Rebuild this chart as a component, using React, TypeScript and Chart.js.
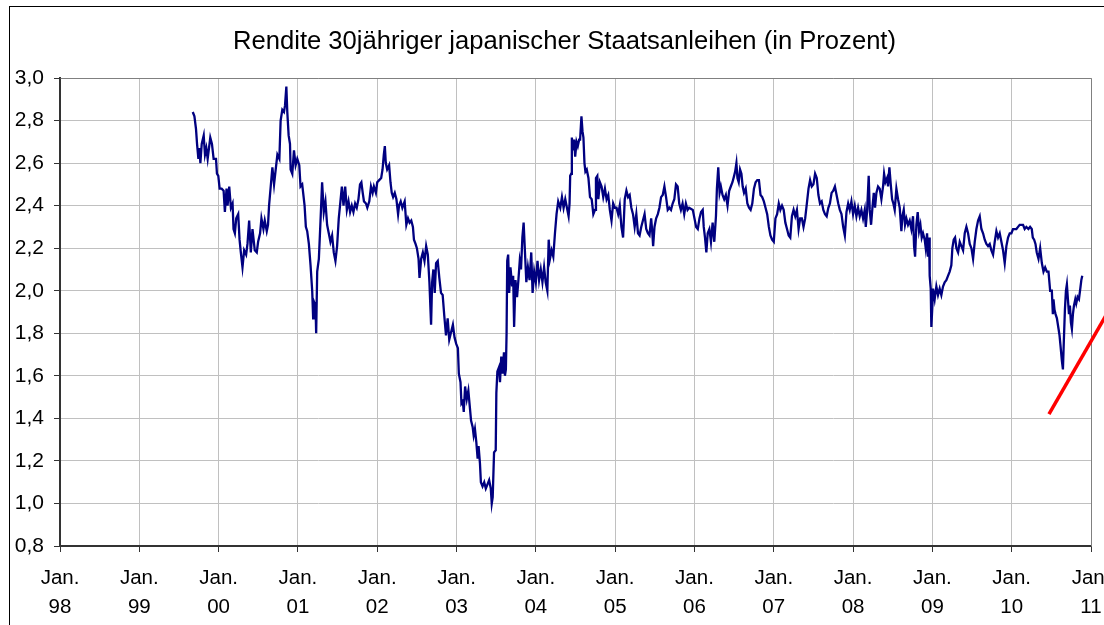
import React, { useEffect, useRef } from "react";
import { Chart, registerables } from "chart.js";

Chart.register(...registerables);

const titleText = "Rendite 30jähriger japanischer Staatsanleihen (in Prozent)";
const xTickTop = "Jan.";
const xTickLabels = ["98", "99", "00", "01", "02", "03", "04", "05", "06", "07", "08", "09", "10", "11"];
const xMin = 1998;
const xMax = 2011;
const yMin = 0.8;
const yMax = 3.0;
const yStep = 0.2;

// decimal years
const dates = [
  1999.674, 1999.695, 1999.715, 1999.728, 1999.745, 1999.757, 1999.770, 1999.787, 1999.812, 1999.828,
  1999.845, 1999.862, 1999.895, 1999.916, 1999.937, 1999.967, 1999.979, 1999.996, 2000.013, 2000.038,
  2000.063, 2000.079, 2000.100, 2000.113, 2000.134, 2000.155, 2000.176, 2000.188, 2000.205, 2000.222,
  2000.247, 2000.264, 2000.280, 2000.301, 2000.322, 2000.347, 2000.364, 2000.385, 2000.406, 2000.427,
  2000.456, 2000.481, 2000.498, 2000.523, 2000.540, 2000.565, 2000.582, 2000.607, 2000.623, 2000.636,
  2000.657, 2000.678, 2000.699, 2000.720, 2000.741, 2000.766, 2000.782, 2000.803, 2000.824, 2000.837,
  2000.854, 2000.866, 2000.883, 2000.900, 2000.908, 2000.929, 2000.950, 2000.971, 2000.992, 2001.017,
  2001.033, 2001.054, 2001.084, 2001.100, 2001.117, 2001.138, 2001.159, 2001.180, 2001.192, 2001.201,
  2001.222, 2001.230, 2001.243, 2001.264, 2001.285, 2001.305, 2001.326, 2001.347, 2001.368, 2001.389,
  2001.410, 2001.431, 2001.452, 2001.473, 2001.494, 2001.515, 2001.536,
  2001.554, 2001.575, 2001.596, 2001.617, 2001.638, 2001.658, 2001.679, 2001.700, 2001.721, 2001.742,
  2001.763, 2001.783, 2001.800, 2001.817, 2001.833, 2001.858, 2001.875, 2001.900, 2001.921, 2001.942,
  2001.958, 2001.983, 2002.000, 2002.025, 2002.050, 2002.067, 2002.083, 2002.096, 2002.108, 2002.125,
  2002.150, 2002.167, 2002.183, 2002.200, 2002.221, 2002.242, 2002.263, 2002.275, 2002.296, 2002.317,
  2002.346, 2002.367, 2002.388, 2002.408, 2002.429, 2002.450, 2002.463, 2002.483, 2002.500, 2002.521,
  2002.533, 2002.554, 2002.575, 2002.596, 2002.617, 2002.638, 2002.658, 2002.679, 2002.692, 2002.708,
  2002.725, 2002.742, 2002.763, 2002.783, 2002.804, 2002.825, 2002.846, 2002.867, 2002.888, 2002.908,
  2002.954, 2002.975, 2002.996, 2003.017, 2003.029, 2003.050, 2003.062, 2003.079, 2003.091, 2003.108,
  2003.129, 2003.149, 2003.166, 2003.183, 2003.203, 2003.216, 2003.232, 2003.249, 2003.266, 2003.278,
  2003.295, 2003.307, 2003.328, 2003.349, 2003.369, 2003.390, 2003.411, 2003.432, 2003.444, 2003.456,
  2003.473, 2003.494, 2003.502, 2003.515, 2003.535, 2003.548, 2003.564, 2003.581, 2003.598, 2003.610,
  2003.622, 2003.631, 2003.639, 2003.651, 2003.664, 2003.680, 2003.701, 2003.714, 2003.726, 2003.743,
  2003.763, 2003.780, 2003.797, 2003.813, 2003.830, 2003.846, 2003.863, 2003.880, 2003.900, 2003.921,
  2003.942, 2003.959, 2003.979, 2004.000, 2004.021, 2004.041, 2004.062, 2004.083, 2004.104, 2004.124,
  2004.145, 2004.162, 2004.178, 2004.199, 2004.220, 2004.241, 2004.261, 2004.282,
  2004.308, 2004.329, 2004.350, 2004.371, 2004.392, 2004.413, 2004.425, 2004.433, 2004.446, 2004.454,
  2004.467, 2004.483, 2004.496, 2004.513, 2004.529, 2004.546, 2004.558, 2004.575, 2004.588, 2004.600,
  2004.613, 2004.625, 2004.642, 2004.663, 2004.683, 2004.704, 2004.725, 2004.746, 2004.758, 2004.775,
  2004.788, 2004.808, 2004.829, 2004.850, 2004.871, 2004.892, 2004.913, 2004.933, 2004.954, 2004.975,
  2004.996, 2005.017, 2005.038, 2005.058, 2005.079, 2005.100, 2005.121, 2005.142, 2005.163, 2005.183,
  2005.204, 2005.225, 2005.246, 2005.267, 2005.288, 2005.308, 2005.329, 2005.350, 2005.371, 2005.392,
  2005.413, 2005.433, 2005.454, 2005.467, 2005.479, 2005.496, 2005.517, 2005.538, 2005.558, 2005.579,
  2005.600, 2005.621, 2005.642, 2005.663, 2005.683, 2005.704, 2005.725, 2005.746, 2005.767, 2005.788,
  2005.808, 2005.829, 2005.850, 2005.871, 2005.892, 2005.913, 2005.933,
  2005.979, 2006.000, 2006.021, 2006.042, 2006.063, 2006.083, 2006.104, 2006.117, 2006.133, 2006.150,
  2006.167, 2006.188, 2006.208, 2006.229, 2006.250, 2006.271, 2006.283, 2006.300, 2006.317, 2006.333,
  2006.354, 2006.375, 2006.396, 2006.417, 2006.438, 2006.458, 2006.479, 2006.500, 2006.513, 2006.529,
  2006.542, 2006.558, 2006.575, 2006.592, 2006.608, 2006.625, 2006.646, 2006.667, 2006.688, 2006.708,
  2006.729, 2006.750, 2006.771, 2006.792, 2006.813, 2006.833, 2006.854, 2006.875, 2006.896, 2006.917,
  2006.938, 2006.958, 2006.979, 2007.000, 2007.021, 2007.042, 2007.063, 2007.083, 2007.104, 2007.125,
  2007.146, 2007.167, 2007.188, 2007.208, 2007.229, 2007.250, 2007.271, 2007.292, 2007.313, 2007.333,
  2007.354, 2007.375, 2007.396, 2007.417, 2007.438, 2007.458, 2007.479, 2007.500, 2007.521, 2007.542,
  2007.563, 2007.583, 2007.604, 2007.625, 2007.646, 2007.667, 2007.688, 2007.708, 2007.729, 2007.750,
  2007.771, 2007.792, 2007.813, 2007.833, 2007.854, 2007.875, 2007.896, 2007.917, 2007.938, 2007.958,
  2007.979, 2008.000, 2008.021, 2008.042, 2008.063,
  2008.084, 2008.105, 2008.126, 2008.147, 2008.160, 2008.176, 2008.197, 2008.210, 2008.227, 2008.244,
  2008.261, 2008.277, 2008.294, 2008.315, 2008.336, 2008.357, 2008.378, 2008.391, 2008.408, 2008.429,
  2008.441, 2008.458, 2008.475, 2008.492, 2008.508, 2008.525, 2008.546, 2008.567, 2008.588, 2008.609,
  2008.622, 2008.639, 2008.655, 2008.672, 2008.693, 2008.714, 2008.735, 2008.756, 2008.769, 2008.782,
  2008.798, 2008.815, 2008.832, 2008.849, 2008.866, 2008.882, 2008.903, 2008.916, 2008.933, 2008.945,
  2008.958, 2008.966, 2008.979, 2008.987, 2009.000, 2009.008, 2009.029, 2009.050, 2009.071, 2009.092,
  2009.113, 2009.134, 2009.155, 2009.176, 2009.197, 2009.218, 2009.239, 2009.252, 2009.269, 2009.286,
  2009.303, 2009.324, 2009.345, 2009.366, 2009.387, 2009.408, 2009.429, 2009.450, 2009.471, 2009.492,
  2009.513, 2009.534, 2009.555, 2009.576, 2009.597, 2009.618, 2009.639, 2009.660, 2009.681, 2009.702,
  2009.723, 2009.744, 2009.765, 2009.786, 2009.807, 2009.828, 2009.849, 2009.870, 2009.891, 2009.912,
  2009.933, 2009.954, 2009.975, 2009.996, 2010.017, 2010.038, 2010.059, 2010.080, 2010.101, 2010.122,
  2010.143, 2010.164, 2010.185,
  2010.211, 2010.232, 2010.253, 2010.266, 2010.283, 2010.300, 2010.316, 2010.338, 2010.359, 2010.380,
  2010.401, 2010.422, 2010.443, 2010.464, 2010.485, 2010.506, 2010.519, 2010.527, 2010.540, 2010.553,
  2010.570, 2010.591, 2010.603, 2010.616, 2010.633, 2010.646, 2010.658, 2010.671, 2010.684, 2010.696,
  2010.709, 2010.722, 2010.734, 2010.747, 2010.759, 2010.772, 2010.785, 2010.802, 2010.814, 2010.831,
  2010.848, 2010.865, 2010.878, 2010.890,
];

// yield in percent
const yields = [
  2.84, 2.82, 2.76, 2.69, 2.62, 2.67, 2.60, 2.69, 2.73, 2.64,
  2.67, 2.62, 2.72, 2.69, 2.62, 2.62, 2.55, 2.54, 2.48, 2.48,
  2.47, 2.37, 2.48, 2.40, 2.49, 2.39, 2.41, 2.29, 2.27, 2.34,
  2.36, 2.24, 2.18, 2.11, 2.19, 2.17, 2.22, 2.33, 2.18, 2.29,
  2.19, 2.18, 2.23, 2.27, 2.34, 2.29, 2.33, 2.28, 2.31, 2.40,
  2.49, 2.58, 2.50, 2.57, 2.64, 2.62, 2.80, 2.85, 2.84, 2.87,
  2.96, 2.84, 2.73, 2.69, 2.57, 2.55, 2.66, 2.59, 2.62, 2.59,
  2.49, 2.50, 2.40, 2.30, 2.28, 2.22, 2.12, 2.00, 1.87, 1.95,
  1.93, 1.80, 2.09, 2.15, 2.33, 2.51, 2.37, 2.42, 2.31, 2.27,
  2.23, 2.26, 2.18, 2.14, 2.21, 2.34, 2.42,
  2.49, 2.40, 2.49, 2.38, 2.42, 2.37, 2.40, 2.37, 2.41, 2.39,
  2.43, 2.50, 2.51, 2.46, 2.42, 2.41, 2.39, 2.42, 2.49, 2.46,
  2.49, 2.46, 2.51, 2.52, 2.53, 2.57, 2.64, 2.68, 2.60, 2.57,
  2.59, 2.51, 2.46, 2.44, 2.46, 2.43, 2.36, 2.40, 2.42, 2.39,
  2.42, 2.31, 2.34, 2.32, 2.33, 2.30, 2.24, 2.22, 2.20, 2.15,
  2.06, 2.15, 2.18, 2.14, 2.21, 2.17, 2.04, 1.84, 2.04, 2.10,
  1.99, 2.13, 2.14, 2.06, 1.99, 1.98, 1.88, 1.79, 1.87, 1.77,
  1.84, 1.78, 1.75, 1.73, 1.61, 1.57, 1.47, 1.48, 1.43, 1.55,
  1.49, 1.53, 1.46, 1.39, 1.36, 1.32, 1.35, 1.29, 1.21, 1.27,
  1.19, 1.10, 1.08, 1.10, 1.07, 1.09, 1.11, 1.07, 1.00, 1.03,
  1.24, 1.25, 1.52, 1.62, 1.64, 1.57, 1.69, 1.61, 1.71, 1.60,
  1.63, 1.80, 2.14, 2.17, 1.99, 2.11, 2.02, 2.07, 1.83, 2.05,
  1.97, 2.05, 2.14, 2.10, 2.25, 2.32, 2.18, 2.04, 2.11, 2.05,
  2.18, 1.99, 2.09, 2.04, 2.14, 2.05, 2.10, 2.04, 2.11, 2.04,
  2.00, 2.24, 2.15, 2.19, 2.16, 2.27, 2.36, 2.42,
  2.39, 2.44, 2.39, 2.43, 2.39, 2.35, 2.41, 2.54, 2.55, 2.72,
  2.66, 2.71, 2.63, 2.70, 2.68, 2.71, 2.71, 2.82, 2.75, 2.72,
  2.60, 2.56, 2.57, 2.53, 2.44, 2.43, 2.36, 2.38, 2.53, 2.54,
  2.43, 2.51, 2.49, 2.44, 2.48, 2.43, 2.45, 2.38, 2.33, 2.41,
  2.39, 2.39, 2.36, 2.40, 2.30, 2.25, 2.43, 2.47, 2.44, 2.45,
  2.39, 2.36, 2.30, 2.36, 2.27, 2.26, 2.30, 2.33, 2.36, 2.29,
  2.27, 2.26, 2.34, 2.28, 2.21, 2.30, 2.34, 2.36, 2.39, 2.44,
  2.45, 2.49, 2.44, 2.38, 2.39, 2.38, 2.41, 2.43, 2.50, 2.49,
  2.41, 2.38, 2.41, 2.36, 2.41, 2.38, 2.39,
  2.38, 2.34, 2.30, 2.29, 2.34, 2.37, 2.38, 2.30, 2.25, 2.18,
  2.27, 2.29, 2.23, 2.32, 2.23, 2.35, 2.48, 2.58, 2.46, 2.49,
  2.45, 2.43, 2.45, 2.40, 2.47, 2.49, 2.51, 2.54, 2.56, 2.60,
  2.53, 2.51, 2.57, 2.55, 2.49, 2.46, 2.48, 2.41, 2.39, 2.38,
  2.41, 2.48, 2.51, 2.52, 2.52, 2.45, 2.44, 2.42, 2.39, 2.36,
  2.30, 2.26, 2.24, 2.23, 2.34, 2.36, 2.41, 2.38, 2.40, 2.38,
  2.32, 2.29, 2.26, 2.25, 2.35, 2.38, 2.35, 2.38, 2.29, 2.34,
  2.34, 2.30, 2.34, 2.41, 2.48, 2.52, 2.49, 2.50, 2.55, 2.53,
  2.45, 2.41, 2.42, 2.38, 2.36, 2.35, 2.39, 2.41, 2.46, 2.47,
  2.49, 2.45, 2.41, 2.38, 2.36, 2.30, 2.26, 2.37, 2.41, 2.38,
  2.42, 2.36, 2.40, 2.35, 2.39,
  2.35, 2.38, 2.34, 2.38, 2.30, 2.37, 2.54, 2.38, 2.31, 2.39,
  2.46, 2.39, 2.46, 2.49, 2.48, 2.43, 2.49, 2.55, 2.51, 2.53,
  2.49, 2.58, 2.50, 2.43, 2.41, 2.38, 2.48, 2.43, 2.39, 2.28,
  2.35, 2.38, 2.31, 2.34, 2.31, 2.33, 2.29, 2.35, 2.21, 2.16,
  2.31, 2.37, 2.28, 2.31, 2.25, 2.27, 2.24, 2.20, 2.27, 2.16,
  2.25, 2.07, 2.01, 1.83, 1.93, 2.01, 1.96, 2.02, 1.98, 2.01,
  1.98, 2.02, 2.04, 2.05, 2.07, 2.09, 2.12, 2.20, 2.24, 2.25,
  2.20, 2.18, 2.23, 2.21, 2.19, 2.27, 2.30, 2.27, 2.22, 2.20,
  2.15, 2.23, 2.29, 2.33, 2.35, 2.29, 2.27, 2.24, 2.22, 2.21,
  2.22, 2.19, 2.17, 2.23, 2.28, 2.25, 2.27, 2.23, 2.19, 2.13,
  2.21, 2.25, 2.27, 2.27, 2.29, 2.29, 2.29, 2.30, 2.31, 2.31,
  2.31, 2.29, 2.30,
  2.29, 2.30, 2.29, 2.25, 2.24, 2.22, 2.18, 2.15, 2.20, 2.13,
  2.09, 2.11, 2.09, 2.09, 2.00, 2.00, 1.89, 1.96, 1.91, 1.89,
  1.87, 1.82, 1.79, 1.74, 1.67, 1.63, 1.77, 1.91, 2.00, 2.03,
  1.96, 1.89, 1.93, 1.85, 1.82, 1.89, 1.93, 1.96, 1.94, 1.97,
  1.96, 2.01, 2.05, 2.07,
];

// red trend arrow (annotation)
const arrowDates = [2010.47, 2011.6];
const arrowValues = [1.42, 2.15];

const FONT = "'Liberation Sans', Arial, sans-serif";

const framePlugin = {
  id: "frame",
  beforeDatasetsDraw(chart: any) {
    const { ctx, chartArea } = chart;
    ctx.save();
    ctx.strokeStyle = "#808080";
    ctx.lineWidth = 1;
    ctx.beginPath();
    ctx.moveTo(Math.round(chartArea.left) + 0.5, Math.round(chartArea.top) + 0.5);
    ctx.lineTo(Math.round(chartArea.right) + 0.5, Math.round(chartArea.top) + 0.5);
    ctx.lineTo(Math.round(chartArea.right) + 0.5, Math.round(chartArea.bottom) + 0.5);
    ctx.stroke();
    ctx.restore();
  },
  afterDraw(chart: any) {
    const { ctx } = chart;
    ctx.save();
    ctx.strokeStyle = "#000000";
    ctx.lineWidth = 1;
    ctx.strokeRect(9.5, 6.5, 3000, 3000);
    ctx.fillStyle = "#000000";
    ctx.font = `25.6px ${FONT}`;
    ctx.textAlign = "center";
    ctx.textBaseline = "alphabetic";
    ctx.fillText(titleText, 564.5, 49);
    ctx.restore();
  },
};

export default function App() {
  const ref = useRef<HTMLCanvasElement | null>(null);

  useEffect(() => {
    if (!ref.current) return;
    const chart = new Chart(ref.current, {
      type: "line",
      data: {
        datasets: [
          {
            data: dates.map((d, i) => ({ x: d, y: yields[i] })),
            borderColor: "#000080",
            borderWidth: 2.3,
            pointRadius: 0,
            tension: 0,
            fill: false,
          },
          {
            data: arrowDates.map((d, i) => ({ x: d, y: arrowValues[i] })),
            borderColor: "#ff0000",
            borderWidth: 3.5,
            pointRadius: 0,
            tension: 0,
            fill: false,
            clip: false,
          } as any,
        ],
      },
      options: {
        animation: false,
        responsive: false,
        events: [],
        layout: { padding: { left: 0, top: 78, right: 1180 - 1091, bottom: 0 } },
        plugins: { legend: { display: false }, title: { display: false }, tooltip: { enabled: false } },
        scales: {
          x: {
            type: "linear",
            min: xMin,
            max: xMax,
            afterFit(scale: any) {
              scale.height = 640 - 546;
            },
            grid: { color: "#c0c0c0", lineWidth: 1, tickColor: "#333333", tickLength: 6 },
            border: { color: "#333333", width: 2 },
            ticks: {
              stepSize: 1,
              autoSkip: false,
              maxRotation: 0,
              minRotation: 0,
              padding: 12,
              color: "#000000",
              font: { family: FONT, size: 20.5, lineHeight: 1.42 },
              callback: (_v: any, i: number) => [xTickTop, xTickLabels[i]],
            },
          },
          y: {
            min: yMin,
            max: yMax,
            afterFit(scale: any) {
              scale.width = 60;
            },
            grid: { color: "#c0c0c0", lineWidth: 1, tickColor: "#333333", tickLength: 6 },
            border: { color: "#333333", width: 2 },
            ticks: {
              stepSize: yStep,
              padding: 10,
              color: "#000000",
              font: { family: FONT, size: 21 },
              callback: (v: any) => Number(v).toFixed(1).replace(".", ","),
            },
          },
        },
      },
      plugins: [framePlugin],
    });
    return () => chart.destroy();
  }, []);

  return (
    <div
      style={{
        position: "absolute",
        left: 0,
        top: 0,
        width: 1104,
        height: 625,
        overflow: "hidden",
        background: "#ffffff",
      }}
    >
      <canvas ref={ref} width={1180} height={640} style={{ display: "block" }} />
    </div>
  );
}
